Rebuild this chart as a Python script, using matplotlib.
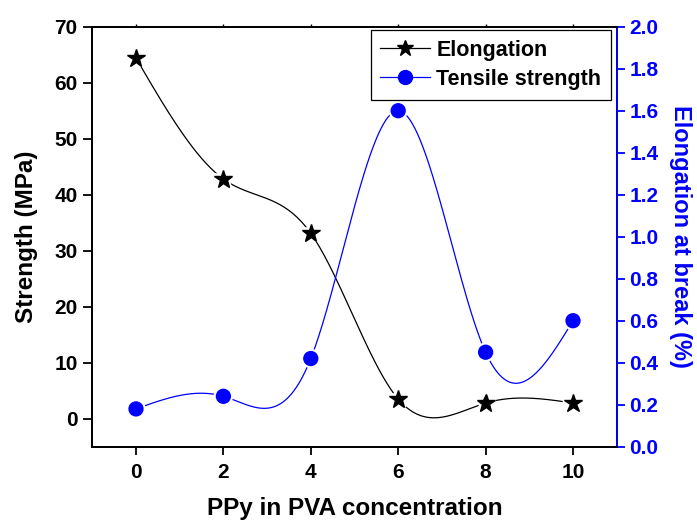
import numpy as np
import matplotlib
matplotlib.use("Agg")
import matplotlib.pyplot as plt
import matplotlib.patheffects as pe
from matplotlib.lines import Line2D
from matplotlib.ticker import FormatStrFormatter

plt.rcParams['font.family'] = ['Liberation Sans', 'DejaVu Sans']
plt.rcParams['font.weight'] = 'bold'

# data
ppy_conc = [0, 2, 4, 6, 8, 10]
strength = [64.4, 42.8, 33.1, 3.5, 2.8, 2.8]          # black stars, left axis
elong_break = [0.18, 0.24, 0.42, 1.60, 0.45, 0.60]     # blue circles, right axis

x_ticks = [0, 2, 4, 6, 8, 10]
left_ticks = [0, 10, 20, 30, 40, 50, 60, 70]
right_ticks = [0.0, 0.2, 0.4, 0.6, 0.8, 1.0, 1.2, 1.4, 1.6, 1.8, 2.0]

BLUE = '#0000FF'


def natural_spline(x, y, xs):
    # smooth connecting line through the points (like Origin's spline line)
    x = np.asarray(x, float)
    y = np.asarray(y, float)
    n = len(x)
    h = np.diff(x)
    A = np.zeros((n, n))
    b = np.zeros(n)
    A[0, 0] = A[-1, -1] = 1
    for i in range(1, n - 1):
        A[i, i - 1] = h[i - 1]
        A[i, i] = 2 * (h[i - 1] + h[i])
        A[i, i + 1] = h[i]
        b[i] = 6 * ((y[i + 1] - y[i]) / h[i] - (y[i] - y[i - 1]) / h[i - 1])
    M = np.linalg.solve(A, b)
    idx = np.clip(np.searchsorted(x, xs) - 1, 0, n - 2)
    x0, x1 = x[idx], x[idx + 1]
    hh = x1 - x0
    t0 = x1 - xs
    t1 = xs - x0
    return (M[idx] * t0 ** 3 / (6 * hh) + M[idx + 1] * t1 ** 3 / (6 * hh)
            + (y[idx] / hh - M[idx] * hh / 6) * t0
            + (y[idx + 1] / hh - M[idx + 1] * hh / 6) * t1)


fig = plt.figure(figsize=(6.97, 5.24), dpi=100)
ax = fig.add_axes([0.1324, 0.1475, 0.7524, 0.8015])
ax2 = ax.twinx()

xs = np.linspace(ppy_conc[0], ppy_conc[-1], 400)
halo = [pe.withStroke(linewidth=4, foreground='white')]

# Elongation (black stars) on left axis
ax.plot(xs, natural_spline(ppy_conc, strength, xs), color='black', lw=0.9, zorder=2)
ax.plot(ppy_conc, strength, ls='none', marker='*', ms=13.5, color='black',
        path_effects=halo, zorder=3)

# Tensile strength (blue circles) on right axis
ax2.plot(xs, natural_spline(ppy_conc, elong_break, xs), color=BLUE, lw=0.9, zorder=2)
ax2.plot(ppy_conc, elong_break, ls='none', marker='o', ms=10, color=BLUE,
         path_effects=halo, zorder=3)

ax.set_xlim(-1, 11)
ax.set_ylim(-5, 70)
ax2.set_ylim(0, 2.0)

ax.set_xticks(x_ticks)
ax.set_yticks(left_ticks)
ax2.set_yticks(right_ticks)
ax2.yaxis.set_major_formatter(FormatStrFormatter('%.1f'))

ax.tick_params(axis='y', direction='out', length=6.5, width=1.3, labelsize=15, pad=4)
ax.tick_params(axis='x', direction='out', length=5.5, width=1.3, labelsize=15, pad=6)
ax2.tick_params(axis='y', direction='out', length=6, width=1.3, labelsize=15,
                colors=BLUE, pad=3)

# tiny ticks along the top edge
top = ax.secondary_xaxis('top')
top.set_xticks(x_ticks)
top.tick_params(direction='out', length=2, width=1.0, labeltop=False)

for lab in ax.get_xticklabels() + ax.get_yticklabels() + ax2.get_yticklabels():
    lab.set_fontweight('bold')

for sp in list(ax.spines.values()) + list(ax2.spines.values()) + list(top.spines.values()):
    sp.set_linewidth(1.3)
ax2.spines['right'].set_color(BLUE)

ax.set_xlabel('PPy in PVA concentration', fontsize=17.5, fontweight='bold', labelpad=11)
ax.set_ylabel('Strength (MPa)', fontsize=17.5, fontweight='bold', labelpad=12)
ax2.set_ylabel('Elongation at break (%)', fontsize=17, fontweight='bold',
               color=BLUE, rotation=270, labelpad=24)

handles = [
    Line2D([], [], color='black', lw=0.9, marker='*', ms=12),
    Line2D([], [], color=BLUE, lw=0.9, marker='o', ms=10),
]
leg = ax2.legend(handles, ['Elongation', 'Tensile strength'], loc='upper right',
                 bbox_to_anchor=(0.989, 0.992), borderaxespad=0, fancybox=False,
                 framealpha=1, edgecolor='black', handlelength=2.3,
                 handletextpad=0.3, borderpad=0.45, labelspacing=0.38,
                 prop={'weight': 'bold', 'size': 15.5})
leg.get_frame().set_linewidth(0.9)

fig.savefig('out.png', dpi=100)
